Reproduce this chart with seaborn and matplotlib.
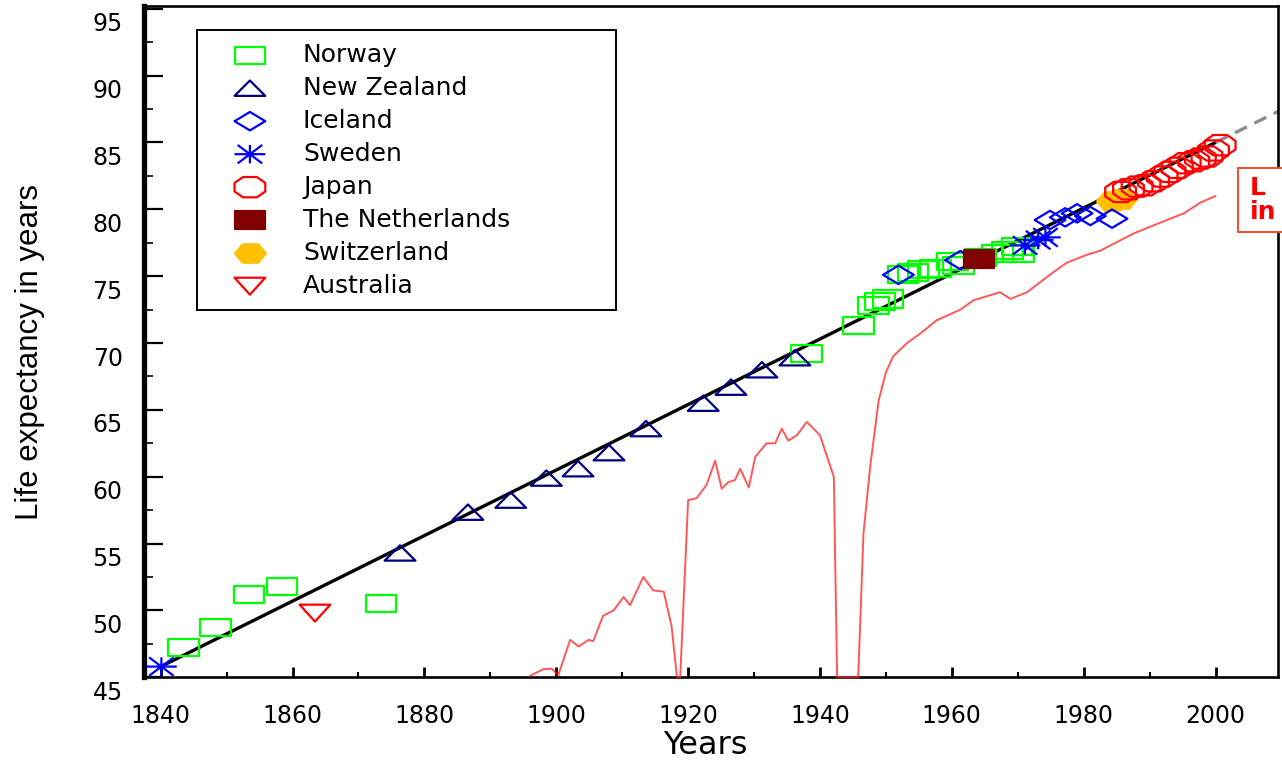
"""
Life expectancy records (best-practice countries) against the linear trend.
"""

import matplotlib
matplotlib.use("Agg")
import matplotlib.pyplot as plt
import matplotlib.ticker as mticker
import matplotlib.transforms as mtransforms
from matplotlib.patches import Rectangle
from matplotlib.path import Path
import seaborn as sns


# ---- data ----
norway_years = [1843.4, 1848.3, 1853.4, 1858.4, 1873.4, 1937.9, 1945.8, 1948.1, 1949.1,
                1950.3, 1952.6, 1954.1, 1955.7, 1957.5, 1960.1, 1961.0, 1964.3, 1966.9,
                1968.4, 1969.9, 1970.1]
norway_le = [47.2, 48.7, 51.2, 51.8, 50.5, 69.2, 71.3, 72.8, 73.1,
             73.3, 75.1, 75.3, 75.5, 75.6, 76.1, 75.8, 76.4, 76.7,
             76.9, 77.2, 76.7]

nz_years = [1876.3, 1886.6, 1893.1, 1898.5, 1903.3, 1908.0, 1913.6, 1922.3, 1926.5,
            1931.2, 1936.2]
nz_le = [54.3, 57.35, 58.25, 59.9, 60.6, 61.8, 63.6, 65.5, 66.7, 68.0, 68.9]

iceland_years = [1951.9, 1961.3, 1974.9, 1977.2, 1979.0, 1981.0, 1984.3]
iceland_le = [75.1, 76.2, 79.2, 79.4, 79.7, 79.5, 79.3]

sweden_years = [1840.1, 1971.1, 1973.1, 1974.2]
sweden_le = [45.8, 77.3, 77.7, 77.9]

japan_years = [1985.6, 1986.8, 1988.1, 1989.3, 1990.6, 1991.9, 1993.1, 1994.2,
               1995.4, 1996.7, 1997.7, 1998.7, 1999.7, 2000.7]
japan_le = [81.3, 81.5, 81.7, 81.8, 82.1, 82.45, 82.8, 83.1,
            83.45, 83.6, 83.8, 83.95, 84.4, 84.8]

netherlands_years = [1964.1]
netherlands_le = [76.3]

switzerland_years = [1984.3, 1985.6]
switzerland_le = [80.6, 80.8]

australia_years = [1863.4]
australia_le = [49.8]

# one country's yearly life expectancy (red curve)
curve_years = [1896.0, 1898.0, 1899.3, 1900.3, 1902.1, 1903.4, 1904.9, 1905.6, 1907.1,
               1908.7, 1910.2, 1911.2, 1913.2, 1914.7, 1916.3, 1917.5, 1918.3, 1918.8,
               1920.0, 1921.3, 1922.8, 1924.1, 1925.1, 1926.1, 1927.1, 1927.9, 1929.2,
               1930.2, 1931.9, 1933.2, 1934.2, 1935.2, 1936.5, 1938.0, 1940.0, 1942.1,
               1942.6, 1945.8, 1946.6, 1947.6, 1948.9, 1950.0, 1951.1, 1953.2, 1955.2,
               1957.7, 1961.3, 1963.3, 1965.3, 1967.3, 1968.9, 1971.4, 1975.4, 1977.4,
               1980.5, 1982.5, 1987.6, 1991.6, 1995.2, 1997.7, 2000.0]
curve_le = [45.1, 45.6, 45.65, 45.15, 47.8, 47.3, 47.8, 47.7, 49.6,
            50.0, 51.0, 50.4, 52.5, 51.5, 51.4, 48.8, 45.0, 45.0,
            58.25, 58.4, 59.4, 61.2, 59.1, 59.6, 59.75, 60.6, 59.2,
            61.5, 62.5, 62.5, 63.6, 62.7, 63.1, 64.1, 63.1, 60.0,
            45.0, 45.0, 55.75, 60.7, 65.7, 67.8, 69.0, 70.0, 70.7,
            71.7, 72.5, 73.2, 73.5, 73.8, 73.3, 73.8, 75.3, 76.0,
            76.6, 76.9, 78.2, 79.0, 79.7, 80.5, 81.0]

# linear trend of the record and its extrapolation
trend_years = [1840, 2000]
trend_le = [45.8, 85.0]
extrap_years = [2000, 2012]
extrap_le = [85.0, 87.94]

x_ticks = [1840, 1860, 1880, 1900, 1920, 1940, 1960, 1980, 2000]
y_ticks = [45, 50, 55, 60, 65, 70, 75, 80, 85, 90, 95]


def make_marker(points, closed=True):
    """Marker path, wider than tall like in the original picture."""
    if closed:
        verts = list(points) + [points[0]]
        codes = [Path.MOVETO] + [Path.LINETO] * (len(points) - 1) + [Path.CLOSEPOLY]
    else:
        verts = list(points)
        codes = [Path.MOVETO, Path.LINETO] * (len(points) // 2)
    return Path(verts, codes)


M_SQUARE = make_marker([(-1, -0.56), (1, -0.56), (1, 0.56), (-1, 0.56)])
M_TRI_UP = make_marker([(0, 0.5), (-1, -0.5), (1, -0.5)])
M_TRI_DOWN = make_marker([(0, -0.55), (-1, 0.55), (1, 0.55)])
M_DIAMOND = make_marker([(0, 0.6), (1, 0), (0, -0.6), (-1, 0)])
M_OCTO = make_marker([(-1, 0.28), (-0.45, 0.66), (0.45, 0.66), (1, 0.28),
                      (1, -0.28), (0.45, -0.66), (-0.45, -0.66), (-1, -0.28)])
M_HEX = make_marker([(-1, 0), (-0.5, 0.6), (0.5, 0.6), (1, 0), (0.5, -0.6), (-0.5, -0.6)])
M_STAR = make_marker([(-1, 0), (1, 0), (0, -0.6), (0, 0.6),
                      (-0.8, -0.6), (0.8, 0.6), (-0.8, 0.6), (0.8, -0.6)], closed=False)


sns.set_style("ticks")
plt.rcParams["font.family"] = "DejaVu Sans"
plt.rcParams["text.color"] = "black"
plt.rcParams["axes.labelcolor"] = "black"

fig = plt.figure(figsize=(12.82, 7.61), dpi=100)
ax = fig.add_axes([0.112, 0.110, 0.885, 0.882])

# red curve
sns.lineplot(x=curve_years, y=curve_le, ax=ax, color="#FF2020", linewidth=1.4,
             alpha=0.75, sort=False, estimator=None, zorder=3, clip_on=False)
# trend
sns.lineplot(x=trend_years, y=trend_le, ax=ax, color="black", linewidth=2.4,
             sort=False, estimator=None, zorder=2)
sns.lineplot(x=extrap_years, y=extrap_le, ax=ax, color="#8C8C8C", linewidth=2.4,
             sort=False, estimator=None, zorder=2, dashes=False,
             linestyle=(0, (4, 2.5)))

SIZE = 490
series = [
    ("Norway", norway_years, norway_le, M_SQUARE, "#00FF00", False, 4),
    ("New Zealand", nz_years, nz_le, M_TRI_UP, "#000080", False, 4),
    ("Iceland", iceland_years, iceland_le, M_DIAMOND, "#0000FF", False, 4),
    ("Sweden", sweden_years, sweden_le, M_STAR, "#0000FF", False, 4),
    ("Japan", japan_years, japan_le, M_OCTO, "#FF0000", False, 5),
    ("The Netherlands", netherlands_years, netherlands_le, M_SQUARE, "#800000", True, 4),
    ("Switzerland", switzerland_years, switzerland_le, M_HEX, "#FFC000", True, 3.5),
    ("Australia", australia_years, australia_le, M_TRI_DOWN, "#FF0000", False, 4),
]
for name, xs, ys, mk, col, filled, z in series:
    sns.scatterplot(x=xs, y=ys, ax=ax, marker=mk, s=SIZE,
                    facecolor=col if filled else "none", edgecolor=col,
                    linewidth=1.6, label=name, zorder=z, clip_on=False)

ax.set_xlim(1837.4, 2009.5)
ax.set_ylim(45, 95.2)
ax.xaxis.set_major_locator(mticker.FixedLocator(x_ticks))
ax.xaxis.set_minor_locator(mticker.MultipleLocator(10))
ax.yaxis.set_major_locator(mticker.FixedLocator(y_ticks))
ax.yaxis.set_minor_locator(mticker.MultipleLocator(2.5))

ax.tick_params(axis="both", which="both", direction="in", labelsize=17, colors="black")
ax.tick_params(axis="x", which="major", length=7, width=2, pad=19)
ax.tick_params(axis="x", which="minor", length=3.5, width=1.5)
ax.tick_params(axis="y", which="major", length=14, width=1.6, pad=15)
ax.tick_params(axis="y", which="minor", length=6.5, width=1.2)

for side, sp in ax.spines.items():
    sp.set_visible(True)
    sp.set_color("black")
    sp.set_linewidth(3.8 if side == "left" else 1.9)

# the original tick labels sit a little below their ticks
shift = mtransforms.ScaledTranslation(0, -13 / 100, fig.dpi_scale_trans)
for lab in ax.get_yticklabels():
    lab.set_transform(lab.get_transform() + shift)

ax.set_xlabel("Years", fontsize=23, va="bottom", color="black")
ax.xaxis.set_label_coords(0.495, -0.1250)
ax.set_ylabel("Life expectancy in years", fontsize=22.5, family="Liberation Sans",
              va="center", color="black")
ax.yaxis.set_label_coords(-0.100, 0.484)

leg = ax.legend(loc="upper left", bbox_to_anchor=(0.047, 0.551, 0.3695, 0.413),
                mode="expand", borderaxespad=0, fancybox=False, framealpha=1,
                edgecolor="black", fontsize=18, handlelength=3.24, handletextpad=0.5,
                borderpad=0.5, labelspacing=0.36, scatterpoints=1, labelcolor="black")
leg.get_frame().set_linewidth(1.4)

# box label on the right, running past the edge of the picture as in the original
W, H = fig.bbox.width, fig.bbox.height
fig.add_artist(Rectangle((1238 / W, 1 - 232 / H), 70 / W, 64 / H,
                         transform=fig.transFigure, facecolor="white",
                         edgecolor="#FF4A2A", linewidth=1.4, zorder=5))
fig.text(1250 / W, 1 - 200 / H, "L\nin", color="#FF0000", fontsize=18,
         fontweight="bold", ha="left", va="center", linespacing=1.05, zorder=6)

fig.savefig("out.png", dpi=100)
